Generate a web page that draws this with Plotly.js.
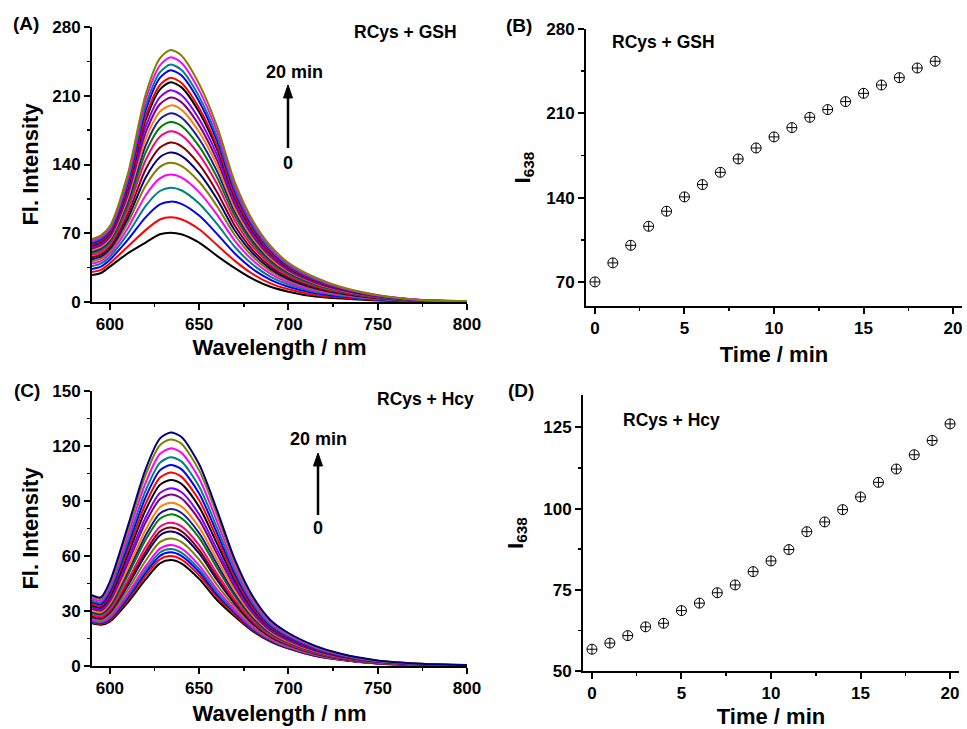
<!DOCTYPE html>
<html><head><meta charset="utf-8">
<script src="https://cdn.plot.ly/plotly-3.0.1.min.js"></script>
<style>html,body{margin:0;padding:0;background:#fff}#chart{width:967px;height:729px}</style>
</head><body><div id="chart"></div>
<script>
// ---------- data ----------
const wavelengths = [590,595,600,610,620,628,634,640,650,660,670,680,690,700,715,730,750,775,800];

// RCys + GSH emission spectra (0..19 min)
const gsh_00 = [27.5,29.5,36,49.5,60.5,69,70.6,69,60.5,47,34.5,23.5,15.5,10.5,5.5,3.5,1.5,0.6,0.3];
const gsh_01 = [30.6,32.7,39.4,56.3,73.2,84,86.2,84.3,74.1,58.1,41.9,28.5,19,13,7.1,4.5,2,0.7,0.4];
const gsh_02 = [33.7,36,43,63.2,86.2,99.4,102.2,99.9,88,69.4,49.4,33.6,22.6,15.5,8.8,5.5,2.4,0.8,0.4];
const gsh_03 = [36.5,39,46.1,69.3,97.6,113,116.4,113.8,100.2,79.5,56,38.1,25.7,17.8,10.3,6.3,2.9,0.9,0.5];
const gsh_04 = [39.1,41.7,49,75.1,108.5,125.9,129.7,126.9,111.9,89,62.3,42.4,28.7,19.9,11.7,7.2,3.2,1.05,0.5];
const gsh_05 = [41.5,44.2,51.7,80.3,118.3,137.6,141.8,138.7,122.4,97.6,68,46.3,31.4,21.8,13,7.9,3.6,1.1,0.6];
const gsh_06 = [43.5,46.4,54,84.8,126.6,147.4,152.1,148.7,131.2,104.8,72.8,49.6,33.7,23.4,14,8.5,3.9,1.2,0.6];
const gsh_07 = [45.5,48.5,56.2,89.2,134.9,157.2,162.3,158.7,140.1,112.1,77.6,52.8,36,25,15.1,9.2,4.2,1.3,0.65];
const gsh_08 = [47.8,50.9,58.8,94.2,144.3,168.3,173.8,170,150.1,120.3,83.1,56.5,38.5,26.9,16.3,9.9,4.6,1.4,0.7];
const gsh_09 = [49.6,52.8,60.8,98.3,152,177.5,183.3,179.3,158.4,127,87.5,59.6,40.6,28.4,17.3,10.5,4.8,1.45,0.7];
const gsh_10 = [51.3,54.6,62.8,102.1,159.1,185.9,192.1,187.8,166,133.2,91.6,62.4,42.6,29.8,18.2,11,5.1,1.5,0.76];
const gsh_11 = [52.9,56.3,64.6,105.6,165.7,193.8,200.2,195.9,173.1,139,95.5,65,44.4,31.1,19.1,11.5,5.3,1.6,0.8];
const gsh_12 = [54.5,58,66.3,109,172.1,201.3,208.1,203.5,179.8,144.5,99.2,67.5,46.2,32.3,19.9,12,5.6,1.6,0.8];
const gsh_13 = [55.9,59.5,67.9,112.2,178.1,208.4,215.5,210.8,186.3,149.8,102.7,69.9,47.8,33.5,20.7,12.5,5.8,1.7,0.85];
const gsh_14 = [57.5,61.2,69.7,115.8,184.8,216.3,223.7,218.8,193.4,155.6,106.5,72.5,49.7,34.8,21.5,13,6,1.75,0.9];
const gsh_15 = [58.5,62.1,70.8,117.8,188.5,220.8,228.3,223.3,197.5,158.9,108.7,74,50.7,35.5,22,13.3,6.2,1.8,0.9];
const gsh_16 = [59.9,63.7,72.4,121.1,194.7,228.1,236,230.8,204.1,164.3,112.3,76.4,52.4,36.7,22.8,13.7,6.4,1.85,0.92];
const gsh_17 = [61.1,64.9,73.7,123.6,199.4,233.7,241.7,236.4,209.1,168.4,115,78.2,53.7,37.6,23.4,14.1,6.6,1.9,0.94];
const gsh_18 = [62.5,66.5,75.4,126.8,205.5,240.8,249.2,243.7,215.5,173.7,118.5,80.6,55.3,38.8,24.2,14.5,6.8,1.94,0.97];
const gsh_19 = [64,68,77,130,211,248,256.6,251,222,179,122,83,57,40,25,15,7,2,1];

// RCys + Hcy emission spectra (0..20 min)
const hcy_00 = [23.3,22.5,24.2,34.6,47.2,56,57.8,56,47.5,36,27,19,13.3,9.5,5.5,3.2,1.3,0.4,0.2];
const hcy_01 = [23.8,23.0,24.9,35.9,49.1,58.2,60.0,58.2,49.5,37.6,28.0,19.6,13.7,9.8,5.7,3.3,1.35,0.43,0.21];
const hcy_02 = [24.2,23.4,25.5,37.1,50.8,60.1,62.0,60.1,51.3,38.9,28.9,20.1,14.0,10.0,5.8,3.4,1.4,0.45,0.22];
const hcy_03 = [24.6,23.8,26.1,38.2,52.4,61.9,63.8,61.9,52.9,40.2,29.7,20.6,14.3,10.2,6.0,3.5,1.45,0.47,0.23];
const hcy_04 = [25.1,24.3,26.8,39.5,54.3,64.0,66.0,64.1,54.9,41.8,30.7,21.2,14.7,10.5,6.15,3.6,1.5,0.49,0.24];
const hcy_05 = [25.9,25.1,27.9,41.6,57.4,67.6,69.6,67.7,58.1,44.3,32.3,22.2,15.3,11.0,6.4,3.8,1.6,0.54,0.25];
const hcy_06 = [26.7,25.9,29.1,43.8,60.6,71.2,73.3,71.4,61.4,46.9,33.9,23.2,15.9,11.4,6.7,3.9,1.7,0.58,0.27];
const hcy_07 = [27.2,26.3,29.8,45.2,62.5,73.3,75.5,73.6,63.4,48.5,34.9,23.9,16.3,11.7,6.9,4.0,1.7,0.6,0.28];
const hcy_08 = [27.8,26.9,30.6,46.8,64.9,76.0,78.2,76.3,65.9,50.4,36.1,24.6,16.7,12.0,7.1,4.2,1.8,0.64,0.29];
const hcy_09 = [28.8,27.9,32.0,49.4,68.7,80.3,82.7,80.7,69.9,53.5,38.1,25.8,17.5,12.5,7.5,4.4,1.9,0.69,0.31];
const hcy_10 = [29.5,28.5,32.9,51.2,71.2,83.2,85.6,83.6,72.5,55.6,39.4,26.6,18.0,12.9,7.7,4.5,2.0,0.72,0.32];
const hcy_11 = [30.2,29.3,34.0,53.2,74.3,86.6,89.1,87.1,75.6,58.1,41.0,27.6,18.6,13.3,8.0,4.7,2.1,0.76,0.34];
const hcy_12 = [31.2,30.2,35.4,55.9,78.2,91.0,93.6,91.5,79.7,61.2,43.0,28.8,19.3,13.9,8.3,4.9,2.2,0.81,0.35];
const hcy_13 = [32.0,31.0,36.5,57.9,81.0,94.3,96.9,94.9,82.7,63.6,44.5,29.7,19.9,14.3,8.6,5.1,2.3,0.85,0.37];
const hcy_14 = [33.0,31.9,37.9,60.6,85.0,98.8,101.5,99.4,86.8,66.8,46.5,31.0,20.7,14.9,9.0,5.3,2.4,0.9,0.39];
const hcy_15 = [33.9,32.8,39.2,63.0,88.4,102.7,105.5,103.3,90.4,69.6,48.3,32.0,21.3,15.3,9.3,5.5,2.5,0.95,0.41];
const hcy_16 = [34.8,33.7,40.4,65.4,92.0,106.7,109.6,107.4,94.1,72.5,50.1,33.2,22.0,15.8,9.6,5.7,2.6,1.0,0.42];
const hcy_17 = [35.7,34.6,41.8,68.0,95.6,110.8,113.8,111.6,97.9,75.5,52.0,34.3,22.7,16.4,9.9,5.9,2.7,1.04,0.44];
const hcy_18 = [36.8,35.6,43.3,70.9,99.9,115.6,118.7,116.4,102.3,78.9,54.2,35.6,23.6,17.0,10.3,6.1,2.8,1.1,0.46];
const hcy_19 = [37.9,36.7,44.8,73.8,104.1,120.4,123.6,121.3,106.7,82.4,56.4,37.0,24.4,17.6,10.7,6.3,2.9,1.16,0.48];
const hcy_20 = [38.7,37.5,46,76,107.3,124,127.3,125,110,85,58,38,25,18,11,6.5,3,1.2,0.5];

// I638 vs time
const gshTime = [0,1,2,3,4,5,6,7,8,9,10,11,12,13,14,15,16,17,18,19];
const gshI638 = [70,85.8,100.4,116.2,128.7,140.6,150.8,161.0,172.1,181.2,190.4,198.1,206.7,213.1,219.7,226.6,233.5,239.6,247.6,253.2];
const hcyTime = [0,1,2,3,4,5,6,7,8,9,10,11,12,13,14,15,16,17,18,19,20];
const hcyI638 = [56.7,58.6,60.9,63.6,64.7,68.6,70.9,74.1,76.5,80.6,83.9,87.4,92.9,95.9,99.7,103.6,108.1,112.2,116.6,121.0,126.1];

const curveColors = ['#000000','#FF0000','#0000FF','#008080','#FF00FF','#808000','#000080','#800000',
  '#FF0080','#008000','#1A1AA0','#FF8000','#800080','#8000FF'];

const gshSpectra = [gsh_00,gsh_01,gsh_02,gsh_03,gsh_04,gsh_05,gsh_06,gsh_07,gsh_08,gsh_09,
  gsh_10,gsh_11,gsh_12,gsh_13,gsh_14,gsh_15,gsh_16,gsh_17,gsh_18,gsh_19];
const hcySpectra = [hcy_00,hcy_01,hcy_02,hcy_03,hcy_04,hcy_05,hcy_06,hcy_07,hcy_08,hcy_09,hcy_10,
  hcy_11,hcy_12,hcy_13,hcy_14,hcy_15,hcy_16,hcy_17,hcy_18,hcy_19,hcy_20];

// ---------- traces ----------
const FONT = 'Liberation Sans, Arial, sans-serif';
const traces = [];
gshSpectra.forEach((ys, i) => traces.push({
  x: wavelengths, y: ys, xaxis: 'x', yaxis: 'y', type: 'scatter', mode: 'lines',
  line: {color: curveColors[i % curveColors.length], width: 2, shape: 'spline', smoothing: 0.75},
  showlegend: false, hoverinfo: 'skip'
}));
hcySpectra.forEach((ys, i) => traces.push({
  x: wavelengths, y: ys, xaxis: 'x3', yaxis: 'y3', type: 'scatter', mode: 'lines',
  line: {color: curveColors[i % curveColors.length], width: 2, shape: 'spline', smoothing: 0.75},
  showlegend: false, hoverinfo: 'skip'
}));
traces.push({x: gshTime, y: gshI638, xaxis: 'x2', yaxis: 'y2', type: 'scatter', mode: 'markers',
  marker: {symbol: 'circle-cross-open', size: 10, color: '#000', line: {width: 1, color: '#000'}}, showlegend: false});
traces.push({x: hcyTime, y: hcyI638, xaxis: 'x4', yaxis: 'y4', type: 'scatter', mode: 'markers',
  marker: {symbol: 'circle-cross-open', size: 10, color: '#000', line: {width: 1, color: '#000'}}, showlegend: false});

// ---------- layout ----------
function minorTicks(extra) {
  return Object.assign({ticks: 'outside', ticklen: 3, tickwidth: 1.5, tickcolor: '#000', showgrid: false}, extra);
}
function ax(extra) {
  return Object.assign({
    showline: true, linecolor: '#000', linewidth: 2, mirror: false,
    ticks: 'outside', ticklen: 6, tickwidth: 2, tickcolor: '#000',
    showgrid: false, zeroline: false, fixedrange: true,
    tickfont: {family: FONT, size: 17, weight: 'bold', color: '#000'}
  }, extra);
}
const titleFont = {family: FONT, size: 22, weight: 'bold', color: '#000'};
const W = 967, H = 729;
const px = v => v / W, py = v => 1 - v / H;

const layout = {
  width: W, height: H, margin: {l: 0, r: 0, t: 0, b: 0},
  paper_bgcolor: '#fff', plot_bgcolor: 'rgba(0,0,0,0)', showlegend: false,
  xaxis: ax({domain: [px(92), px(467)], range: [590, 800], tick0: 600, dtick: 50, minor: minorTicks({dtick: 25, tick0: 600}), anchor: 'y',
    title: {text: 'Wavelength / nm', font: titleFont, standoff: 6}}),
  yaxis: ax({domain: [py(302), py(27)], range: [0, 280], tick0: 0, dtick: 70, minor: minorTicks({dtick: 35}), anchor: 'x',
    title: {text: 'Fl. Intensity', font: titleFont, standoff: 8}}),
  xaxis2: ax({domain: [px(586), px(962)], range: [-0.5, 20.5], tick0: 0, dtick: 5, minor: minorTicks({dtick: 2.5}), anchor: 'y2',
    title: {text: 'Time / min', font: titleFont, standoff: 9}}),
  yaxis2: ax({domain: [py(306), py(29)], range: [50, 280], tick0: 0, dtick: 70, minor: minorTicks({dtick: 35}), anchor: 'x2',
    title: {text: 'I<sub>638</sub>', font: titleFont, standoff: 10}}),
  xaxis3: ax({domain: [px(92), px(467)], range: [590, 800], tick0: 600, dtick: 50, minor: minorTicks({dtick: 25, tick0: 600}), anchor: 'y3',
    title: {text: 'Wavelength / nm', font: titleFont, standoff: 8}}),
  yaxis3: ax({domain: [py(666), py(391)], range: [0, 150], tick0: 0, dtick: 30, minor: minorTicks({dtick: 15}), anchor: 'x3',
    title: {text: 'Fl. Intensity', font: titleFont, standoff: 8}}),
  xaxis4: ax({domain: [px(583), px(959)], range: [-0.5, 20.5], tick0: 0, dtick: 5, minor: minorTicks({dtick: 2.5}), anchor: 'y4',
    title: {text: 'Time / min', font: titleFont, standoff: 10}}),
  yaxis4: ax({domain: [py(671), py(395)], range: [50, 135], tick0: 50, dtick: 25, minor: minorTicks({dtick: 12.5, tick0: 50}), anchor: 'x4',
    title: {text: 'I<sub>638</sub>', font: titleFont, standoff: 14}}),
  annotations: [],
  shapes: []
};

function label(text, x, y, size) {
  layout.annotations.push({text: text, xref: 'paper', yref: 'paper', x: px(x), y: py(y),
    xanchor: 'center', yanchor: 'middle', showarrow: false,
    font: {family: FONT, size: size || 17, weight: 'bold', color: '#000'}});
}
function arrow(x, yHead, yTail) {
  layout.shapes.push({type: 'line', xref: 'paper', yref: 'paper',
    x0: px(x), x1: px(x), y0: py(yTail), y1: py(yHead + 8), line: {color: '#000', width: 2.5}});
  layout.shapes.push({type: 'path', xref: 'paper', yref: 'paper',
    path: 'M ' + px(x - 4.5) + ' ' + py(yHead + 13) + ' L ' + px(x + 4.5) + ' ' + py(yHead + 13) +
          ' L ' + px(x) + ' ' + py(yHead) + ' Z',
    fillcolor: '#000', line: {color: '#000', width: 1}});
}
label('(A)', 26, 24, 19); label('(B)', 519, 26, 19); label('(C)', 27, 390, 19); label('(D)', 521, 390, 19);
label('RCys + GSH', 405, 32, 17.5); label('RCys + GSH', 663, 42, 17.5);
label('RCys + Hcy', 425, 399, 17.5); label('RCys + Hcy', 671, 420, 17.5);
label('20 min', 294, 72, 18); label('0', 288, 163, 18); arrow(288, 85, 148);
label('20 min', 318, 439, 18); label('0', 318, 528, 18); arrow(318, 453, 515);

Plotly.newPlot('chart', traces, layout, {staticPlot: true, displayModeBar: false});
</script></body></html>
